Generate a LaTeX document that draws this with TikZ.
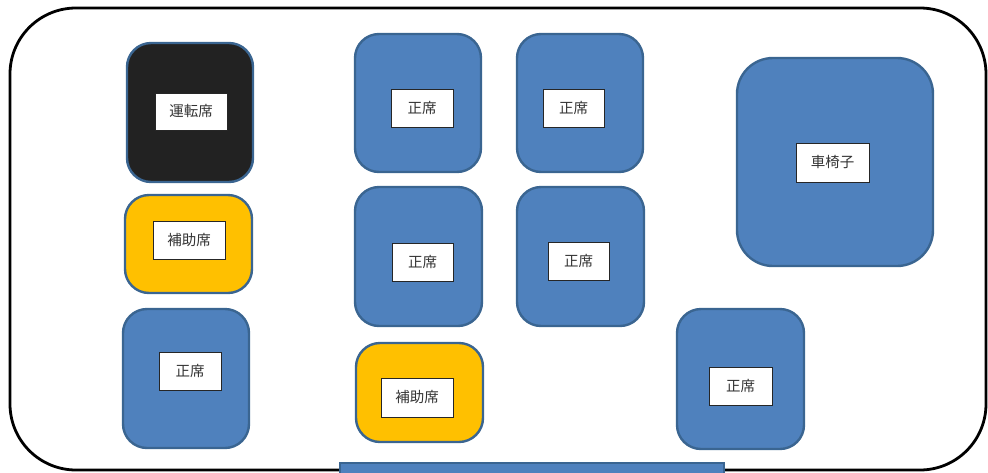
\documentclass[tikz,border=0pt]{standalone}
\usepackage{fontspec}
\newfontfamily\jpfont{Noto Sans CJK JP}
\definecolor{seatblue}{HTML}{4F81BD}
\definecolor{seatedge}{HTML}{3A6591}
\definecolor{auxyellow}{HTML}{FFC000}
\definecolor{drvblack}{HTML}{222222}
\begin{document}
\begin{tikzpicture}[x=1pt,y=-1pt,
  seatbox/.style={draw=seatedge, line width=2.4pt, fill=seatblue, rounded corners=24pt, inner sep=0pt},
  auxbox/.style={seatbox, fill=auxyellow},
  drvbox/.style={seatbox, fill=drvblack},
  tagbox/.style={draw=black!85, fill=white, line width=0.9pt, inner sep=0pt, font=\jpfont\fontsize{14.5pt}{17pt}\selectfont, text=black!80}]
\useasboundingbox (0,0) rectangle (988,472);
\clip (0,0) rectangle (988,472);
% outer frame
\draw[line width=2.8pt, rounded corners=66pt] (10,8) rectangle (986,470);
% seats
\node[drvbox, minimum width=126pt, minimum height=139pt] (drv) at (190,112.5) {};
\node[tagbox, minimum width=72pt, minimum height=37pt] (drvl) at (191,111.5) {運転席};
\node[auxbox, minimum width=127pt, minimum height=98pt] (auxa) at (188.5,244) {};
\node[tagbox, minimum width=72pt, minimum height=38pt] (auxal) at (189,240) {補助席};
\node[seatbox, minimum width=126pt, minimum height=139pt] (sa) at (186,378.5) {};
\node[tagbox, minimum width=62pt, minimum height=38pt] (sal) at (190,371) {正席};
\node[seatbox, minimum width=126pt, minimum height=138pt] (sb) at (418,103) {};
\node[tagbox, minimum width=62pt, minimum height=38pt] (sbl) at (422,108) {正席};
\node[seatbox, minimum width=126pt, minimum height=138pt] (sc) at (580,103) {};
\node[tagbox, minimum width=61pt, minimum height=38pt] (scl) at (573.5,108) {正席};
\node[seatbox, minimum width=127pt, minimum height=139pt] (sd) at (418.5,256.5) {};
\node[tagbox, minimum width=61pt, minimum height=38pt] (sdl) at (422.5,262) {正席};
\node[seatbox, minimum width=127pt, minimum height=139pt] (se) at (580.5,256.5) {};
\node[tagbox, minimum width=61pt, minimum height=38pt] (sel) at (578.5,261.5) {正席};
\node[auxbox, minimum width=127pt, minimum height=99pt] (auxb) at (419.5,392.5) {};
\node[tagbox, minimum width=72pt, minimum height=39pt] (auxbl) at (417,397.5) {補助席};
\node[seatbox, minimum width=127pt, minimum height=140pt] (sf) at (740.5,379) {};
\node[tagbox, minimum width=63pt, minimum height=38pt] (sfl) at (740.5,386) {正席};
\node[seatbox, rounded corners=36pt, minimum width=196pt, minimum height=208pt] (wc) at (835,162) {};
\node[tagbox, minimum width=73pt, minimum height=39pt] (wcl) at (832.5,162.5) {車椅子};
% bottom step
\node[draw=seatedge, line width=2.4pt, fill=seatblue, inner sep=0pt, minimum width=384pt, minimum height=30pt] (door) at (532,478) {};
\end{tikzpicture}
\end{document}
